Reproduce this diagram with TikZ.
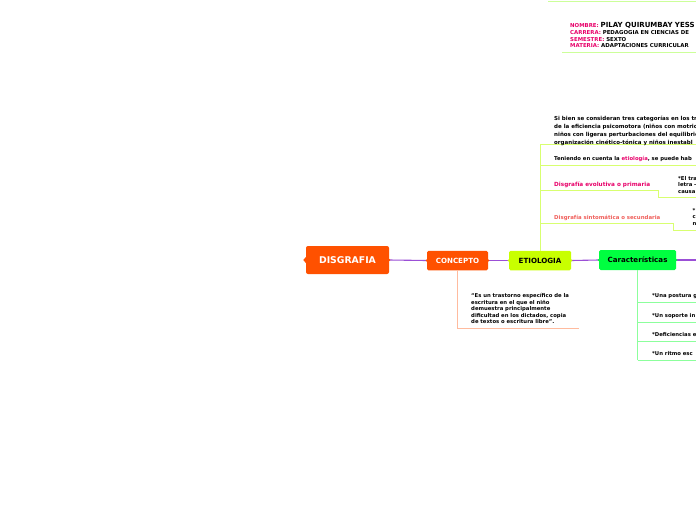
\documentclass[tikz,border=0pt]{standalone}
\usepackage{fontspec}
\setmainfont{DejaVu Sans}
\usetikzlibrary{shapes.geometric}
\definecolor{orng}{HTML}{FF5100}
\definecolor{lime}{HTML}{C8FF00}
\definecolor{grn}{HTML}{00FF40}
\definecolor{purp}{HTML}{9B4FD6}
\definecolor{peach}{HTML}{FFBB9E}
\definecolor{limeln}{HTML}{D8FF70}
\definecolor{grnln}{HTML}{8CFF9C}
\definecolor{topln}{HTML}{CCFF99}
\definecolor{pink}{HTML}{E8006A}
\definecolor{salmon}{HTML}{F0605C}
\tikzset{
  rootbox/.style={fill=orng, rounded corners=2pt, text=white, font=\bfseries\fontsize{9.3}{10}\selectfont, inner sep=0pt, minimum width=83pt, minimum height=28pt},
  topicbox/.style={rounded corners=1.5pt, inner sep=0pt, minimum height=19.5pt, font=\bfseries\fontsize{7.1}{8}\selectfont},
  mainln/.style={draw=purp, line width=1.1pt},
  conln/.style={draw=peach, line width=0.9pt},
  etln/.style={draw=limeln, line width=0.9pt},
  caln/.style={draw=grnln, line width=0.9pt},
  small/.style={anchor=west, align=left, inner sep=0pt, font=\bfseries\fontsize{5.3}{7.8}\selectfont},
  nub/.style={fill=#1, inner sep=0pt, minimum size=2.5pt, shape=diamond}
}
\begin{document}
\begin{tikzpicture}[x=1pt,y=-1pt]
\clip (0,0) rectangle (696,520);
\fill[white] (0,0) rectangle (696,520);

% top-right info block
\coordinate (t1a) at (548,1);
\coordinate (t1b) at (700,1);
\draw[topln, line width=1pt] (t1a) -- (t1b);
\node[small, anchor=north west, font=\bfseries\fontsize{5.4}{6.6}\selectfont] (info) at (570,22.5)
 {\textcolor{pink}{NOMBRE:} {\fontsize{7}{6.6}\selectfont PILAY QUIRUMBAY YESS}\\
  \textcolor{pink}{CARRERA:} PEDAGOGIA EN CIENCIAS DE\\
  \textcolor{pink}{SEMESTRE:} SEXTO\\
  \textcolor{pink}{MATERIA:} ADAPTACIONES CURRICULAR};
\coordinate (t2a) at (562,52);
\coordinate (t2b) at (700,52);
\draw[topln, line width=1pt] (t2a) -- (t2b);

% main nodes
\node[rootbox] (dis) at (347.5,260) {DISGRAFIA};
\node[topicbox, fill=orng, text=white, minimum width=61pt] (con) at (457.5,260.5) {CONCEPTO};
\node[topicbox, fill=lime, text=black, minimum width=62pt] (eti) at (540,260.5) {ETIOLOGIA};
\node[topicbox, fill=grn, text=black, minimum width=77pt, minimum height=20pt] (car) at (637.5,260) {Características};
\coordinate (out) at (700,260);

\fill[orng] (dis.west) ++(-2.5,0) -- ++(2.6,-3) -- ++(0,6) -- cycle;

\draw[mainln] (dis.east) -- (con.west);
\draw[mainln] (con.east) -- (eti.west);
\draw[mainln] (eti.east) -- (car.west);
\draw[mainln] (car.east) -- (out);

\node[nub=orng] at (dis.east) {};
\node[nub=orng] at (con.west) {};
\node[nub=orng] at (con.east) {};
\node[nub=lime] at (eti.west) {};
\node[nub=lime] at (eti.east) {};
\node[nub=grn] at (car.west) {};
\node[nub=grn] at (car.east) {};

% concepto child
\coordinate (c1) at (457.5,328);
\coordinate (c2) at (579,328);
\draw[conln] (con.south) -- (c1) -- (c2);
\node[small, anchor=north west, font=\bfseries\fontsize{5.3}{6.6}\selectfont] (ctext) at (471,293)
 {“Es un trastorno específico de la\\escritura en el que el niño\\demuestra principalmente\\dificultad en los dictados, copia\\de textos o escritura libre”.};

% etiologia children
\coordinate (e0) at (540,144);
\draw[etln] (eti.north) -- (e0);
\coordinate (e1b) at (700,144);
\draw[etln] (e0) -- (e1b);
\node[small, anchor=north west, font=\bfseries\fontsize{5.5}{7.8}\selectfont] (e1) at (554,116)
 {Si bien se consideran tres categorías en los tr\\de la eficiencia psicomotora (niños con motric\\niños con ligeras perturbaciones del equilibrio\\organización cinético-tónica y niños inestabl};

\coordinate (e2a) at (540,165);
\coordinate (e2b) at (700,165);
\draw[etln] (e2a) -- (e2b);
\node[small] (e2) at (554,159) {Teniendo en cuenta la \textcolor{pink}{etiología}, se puede hab};

\coordinate (e3a) at (540,190);
\coordinate (e3b) at (658,190);
\coordinate (e3c) at (658,197);
\coordinate (e3d) at (700,197);
\draw[etln] (e3a) -- (e3b) -- (e3c) -- (e3d);
\node[small, text=pink, font=\bfseries\fontsize{5.7}{7}\selectfont] (e3) at (554,184.5) {Disgrafía evolutiva o primaria};
\node[small, anchor=north west, font=\bfseries\fontsize{5.3}{6.6}\selectfont] (e3t) at (678,176)
 {*El tra\\letra -\\causa};

\coordinate (e4a) at (540,223);
\coordinate (e4b) at (673,223);
\coordinate (e4c) at (673,230);
\coordinate (e4d) at (700,230);
\draw[etln] (e4a) -- (e4b) -- (e4c) -- (e4d);
\node[small, text=salmon, font=\bfseries\fontsize{5.4}{7}\selectfont] (e4) at (554,218) {Disgrafía sintomática o secundaria};
\node[small, anchor=north west, font=\bfseries\fontsize{5.3}{6.6}\selectfont] (e4t) at (692.5,208)
 {*\\c\\n};

% caracteristicas children
\coordinate (k0) at (637.5,360);
\draw[caln] (car.south) -- (k0);
\foreach \yy/\nm/\tx in {302/k1/{*Una postura g}, 322/k2/{*Un soporte in}, 341/k3/{*Deficiencias e}, 360/k4/{*Un ritmo esc}}{
  \coordinate (\nm a) at (637.5,\yy);
  \coordinate (\nm b) at (700,\yy);
  \draw[caln] (\nm a) -- (\nm b);
  \node[small] (\nm) at (652,\yy-6) {\tx};
}
\end{tikzpicture}
\end{document}
